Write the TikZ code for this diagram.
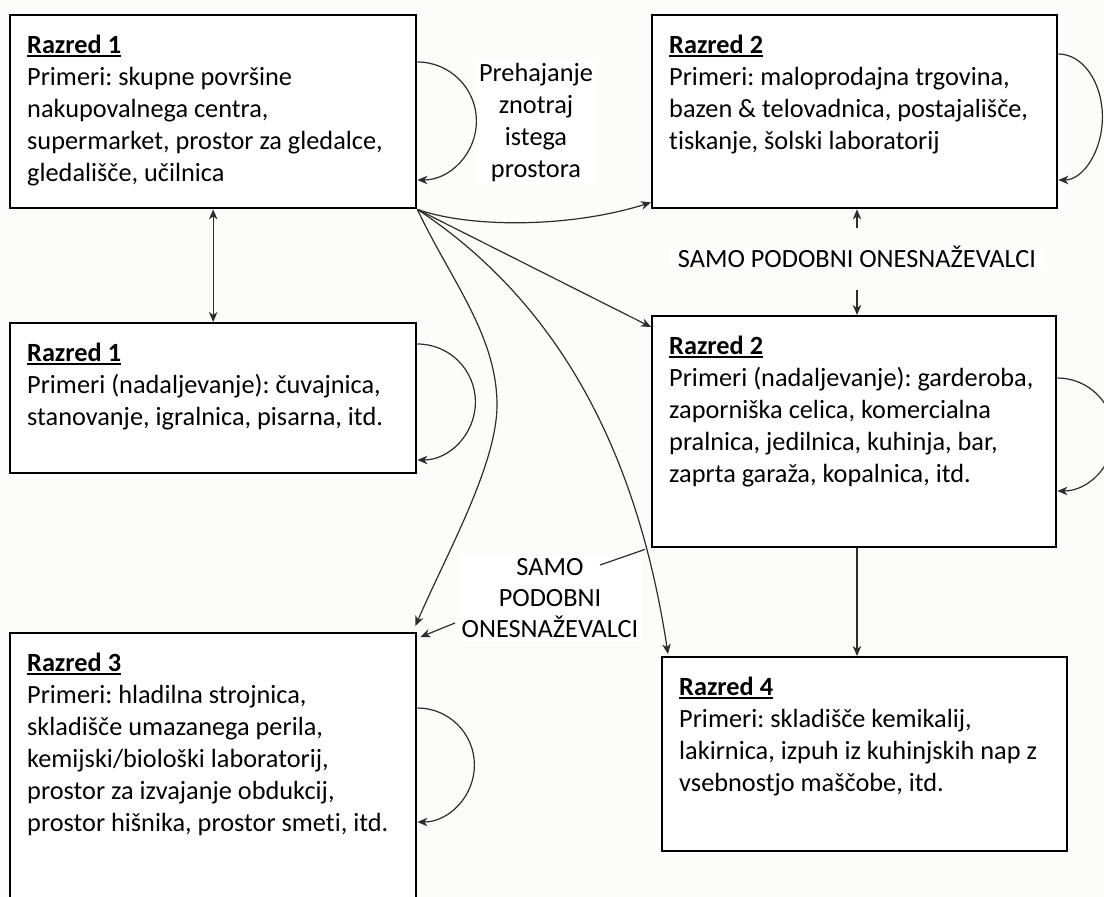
\documentclass[tikz,border=0pt]{standalone}
\usepackage{fontspec}
\setmainfont{Carlito}[Ligatures=NoCommon]
\usetikzlibrary{arrows.meta,calc}
\definecolor{bgcol}{RGB}{252,252,250}
\definecolor{linecol}{RGB}{45,45,45}
\frenchspacing
\newcommand{\ultitle}[1]{\setbox0\hbox{\textbf{#1}}\rlap{\rule[-3.5pt]{\wd0}{1.6pt}}\box0}
\newcommand{\boxtext}[3]{\parbox[c][#2][t]{#1}{\raggedright\frenchspacing\rule{0pt}{38pt}#3}}
\begin{document}
\begin{tikzpicture}[x=1pt,y=-1pt,
  box/.style={draw=black, line width=2.4pt, fill=white, inner xsep=17pt, inner ysep=0pt,
    anchor=north west, font=\fontsize{26.3}{32}\selectfont},
  lbl/.style={fill=white, inner sep=3pt, font=\fontsize{26.3}{32}\selectfont},
  conn/.style={draw=linecol, line width=1.2pt, -{Stealth[length=10pt,width=8.5pt,inset=3pt]}},
  lead/.style={draw=linecol, line width=1.2pt}
]
\fill[bgcol] (0,0) rectangle (1104,897);
\useasboundingbox (0,0) rectangle (1104,897);

% boxes
\node[box] (A) at (9,14) {\boxtext{372pt}{193pt}{\ultitle{Razred 1}\\
Primeri: skupne površine\\
nakupovalnega centra,\\
supermarket, prostor za gledalce,\\
gledališče, učilnica}};

\node[box] (B) at (651,14) {\boxtext{371pt}{193pt}{\ultitle{Razred 2}\\
Primeri: maloprodajna trgovina,\\
bazen \& telovadnica, postajališče,\\
tiskanje, šolski laboratorij}};

\node[box] (C) at (9,322) {\boxtext{372pt}{150pt}{\ultitle{Razred 1}\\
Primeri (nadaljevanje): čuvajnica,\\
stanovanje, igralnica, pisarna, itd.}};

\node[box] (D) at (651,315) {\boxtext{370pt}{231pt}{\ultitle{Razred 2}\\
Primeri (nadaljevanje): garderoba,\\
zaporniška celica, komercialna\\
pralnica, jedilnica, kuhinja, bar,\\
zaprta garaža, kopalnica, itd.}};

\node[box] (E) at (9,632) {\boxtext{372pt}{290pt}{\ultitle{Razred 3}\\
Primeri: hladilna strojnica,\\
skladišče umazanega perila,\\
kemijski/biološki laboratorij,\\
prostor za izvajanje obdukcij,\\
prostor hišnika, prostor smeti, itd.}};

\node[box] (F) at (661,656) {\boxtext{371pt}{194pt}{\ultitle{Razred 4}\\
Primeri: skladišče kemikalij,\\
lakirnica, izpuh iz kuhinjskih nap z\\
vsebnostjo maščobe, itd.}};

% labels
\node[lbl, align=center] (L1) at (536,122) {Prehajanje\\znotraj\\istega\\prostora};
\node[lbl, anchor=base, text height=18pt, text depth=0pt, inner ysep=0pt, inner xsep=8pt] (L2) at (857,267) {SAMO PODOBNI ONESNAŽEVALCI};
\node[lbl, align=center, font=\fontsize{26.3}{31}\selectfont] (L3) at (550,598) {SAMO\\PODOBNI\\ONESNAŽEVALCI};

% self loops
\draw[conn] ($(A.north east)+(0,48)$) arc[start angle=-90, end angle=90, radius=59];
\draw[conn] ($(B.north east)+(0,40)$) arc[start angle=-90, end angle=90, x radius=44, y radius=63];
\draw[conn] ($(C.north east)+(0,22)$) arc[start angle=-90, end angle=90, radius=58];
\draw[conn] ($(D.north east)+(0,63)$) arc[start angle=-90, end angle=90, radius=56.5];
\draw[conn] ($(E.north east)+(0,76)$) arc[start angle=-90, end angle=90, radius=57];

% A <-> C
\draw[conn, {Stealth[length=10pt,width=8.5pt,inset=3pt]}-{Stealth[length=10pt,width=8.5pt,inset=3pt]}] (A.south) -- (C.north);

% fan from A
\draw[conn] (A.south east) .. controls (470,228) and (570,228) .. ($(B.south west)+(0,-7)$);
\draw[conn] (A.south east) -- ($(D.north west)+(0,12)$);
\draw[conn] (A.south east) .. controls (450,279) and (497,335) .. (497,405)
  .. controls (497,465) and (446,555) .. ($(E.north east)+(-2,-6)$);
\draw[conn] (A.south east) .. controls (570,310) and (640,470) .. ($(F.north west)+(7,-2)$);

% B / D label arrows
\draw[conn] ([yshift=21pt]L2.north) -- (L2.north |- B.south);
\draw[conn] ([yshift=-23pt]L2.south) -- (L2.south |- D.north);
% D -> F
\draw[conn] (L2.south |- D.south) -- (L2.south |- F.north);

% leaders of lower label
\draw[lead] ($(L3.center)+(50,-33)$) -- ($(D.south west)+(-6,1)$);
\draw[conn] ($(L3.center)+(-95,25)$) -- ($(E.north east)+(3,5)$);
\end{tikzpicture}
\end{document}
